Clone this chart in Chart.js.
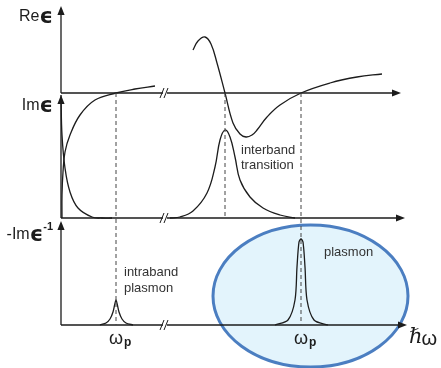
<!DOCTYPE html>
<html>
<head>
<meta charset="utf-8">
<script src="https://cdn.jsdelivr.net/npm/chart.js@4/dist/chart.umd.min.js"></script>
<style>
  html, body { margin: 0; padding: 0; background: #fff; }
  canvas { display: block; }
</style>
</head>
<body>
<canvas id="c" width="441" height="368"></canvas>
<script>
// Photon energy axis (arbitrary units of ħω)
const xRange = [0, 17];
// Three panels share the energy axis; each has its own vertical scale
const reRange = [-5.8, 2.2];      // Re ε
const imRange = [-2.675, 5.325];  // Im ε
const lossRange = [0, 8];         // -Im ε⁻¹

// Characteristic energies
const omegaIntra = 2.75;   // intraband (Drude) plasma frequency
const omegaInter = 8.2;    // interband transition
const omegaP = 12;         // screened plasma frequency
const breakAt = 5.2;       // axis break

// Re ε – free-electron part
const reDrudeX = [0.05, 0.05, 0.1, 0.2, 0.45, 0.95, 1.7, 2.75, 3.7, 4.7];
const reDrudeY = [-3.125, -2.55, -1.975, -1.475, -1.05, -0.55, -0.175, 0, 0.1, 0.175];
// Re ε – around the interband transition
const reInterX = [6.6, 6.85, 7.2, 7.5, 7.8, 8.2, 8.6, 8.95, 9.25, 9.55, 9.8, 10.3, 10.95, 12, 13.45, 14.8, 16.05];
const reInterY = [1.075, 1.3, 1.4, 1.225, 0.75, 0, -0.75, -1.025, -1.1, -1.05, -0.925, -0.6, -0.3, 0, 0.25, 0.4, 0.475];

// Im ε – Drude tail
const imDrudeX = [0, 0.05, 0.2, 0.45, 0.85, 1.55, 2.05, 2.55];
const imDrudeY = [3.075, 2.075, 1.25, 0.65, 0.25, 0.025, 0, 0];
// Im ε – interband absorption peak
const imInterX = [5.45, 5.95, 6.6, 7.3, 7.7, 7.95, 8.2, 8.45, 8.7, 8.95, 9.45, 10.1, 10.95, 11.7];
const imInterY = [0, 0.025, 0.175, 0.625, 1.275, 1.95, 2.2, 2.025, 1.525, 0.95, 0.525, 0.25, 0.075, 0];

// -Im ε⁻¹ – intraband plasmon
const lossIntraX = [1.95, 2.25, 2.45, 2.6, 2.69, 2.75, 2.81, 2.9, 3.05, 3.25, 3.6];
const lossIntraY = [0, 0.05, 0.15, 0.325, 0.525, 0.625, 0.525, 0.325, 0.15, 0.05, 0];
// -Im ε⁻¹ – plasmon
const lossPlasmonX = [10.7, 11.35, 11.7, 11.8, 11.9, 12, 12.1, 12.2, 12.3, 12.65, 13.35];
const lossPlasmonY = [0, 0.125, 0.625, 1.45, 2.075, 2.15, 2.075, 1.45, 0.625, 0.125, 0];

// Highlight around the plasmon peak (centre and half-axes in data units)
const highlightCenter = [12.475, 0.725];
const highlightRadii = [4.875, 1.775];

// Axis extents (arrow tips)
const reAxisTop = 2.175, imAxisTop = 3.075, lossAxisTop = 2.6;
const reAxisEnd = 17, imAxisEnd = 17.2, lossAxisEnd = 17.3;

// Text
const axisTitles = ['Re', 'Im', '-Im'];
const epsilon = 'ϵ';
const interbandLabel = ['interband', 'transition'];
const intraLabel = ['intraband', 'plasmon'];
const plasmonLabel = 'plasmon';

const INK = '#1c1c1c';
const TEXT = '#333333';

function pts(xs, ys) { return xs.map((x, i) => ({ x: x, y: ys[i] })); }

function curve(xs, ys, axis, tension) {
  return {
    data: pts(xs, ys), yAxisID: axis, showLine: true,
    borderColor: INK, borderWidth: 1.3, pointRadius: 0,
    tension: tension, clip: false, fill: false
  };
}
function guide(x, y0, y1, axis) {
  return {
    data: [{ x: x, y: y0 }, { x: x, y: y1 }], yAxisID: axis, showLine: true,
    borderColor: '#444', borderWidth: 1, borderDash: [4, 3], pointRadius: 0,
    tension: 0, clip: false, fill: false
  };
}

function arrowHead(ctx, x, y, dir) {
  const L = 9, W = 3.6;
  ctx.beginPath();
  if (dir === 'up') {
    ctx.moveTo(x, y); ctx.lineTo(x - W, y + L); ctx.lineTo(x + W, y + L);
  } else {
    ctx.moveTo(x, y); ctx.lineTo(x - L, y - W); ctx.lineTo(x - L, y + W);
  }
  ctx.closePath();
  ctx.fill();
}

const diagram = {
  id: 'diagram',
  beforeDatasetsDraw(chart) {
    const ctx = chart.ctx;
    const xs = chart.scales.x, yr = chart.scales.yRe, yi = chart.scales.yIm, yl = chart.scales.yLoss;
    ctx.save();
    // highlight ellipse
    const cx = xs.getPixelForValue(highlightCenter[0]);
    const cy = yl.getPixelForValue(highlightCenter[1]);
    const rx = xs.getPixelForValue(highlightCenter[0] + highlightRadii[0]) - cx;
    const ry = cy - yl.getPixelForValue(highlightCenter[1] + highlightRadii[1]);
    ctx.beginPath();
    ctx.ellipse(cx, cy, rx, ry, 0, 0, Math.PI * 2);
    ctx.fillStyle = '#e3f4fc';
    ctx.fill();
    ctx.lineWidth = 3;
    ctx.strokeStyle = '#4b7ec1';
    ctx.stroke();

    // axes
    ctx.strokeStyle = INK;
    ctx.fillStyle = INK;
    ctx.lineWidth = 1.3;
    const x0 = xs.getPixelForValue(0);
    const lines = [
      [yr, reAxisTop, reAxisEnd],
      [yi, imAxisTop, imAxisEnd],
      [yl, lossAxisTop, lossAxisEnd]
    ];
    lines.forEach(([ys, top, end]) => {
      const yb = ys.getPixelForValue(0);
      const yt = ys.getPixelForValue(top);
      const xe = xs.getPixelForValue(end);
      ctx.beginPath();
      ctx.moveTo(x0, yb); ctx.lineTo(x0, yt + 4);
      ctx.moveTo(x0, yb); ctx.lineTo(xe - 4, yb);
      ctx.stroke();
      arrowHead(ctx, x0, yt, 'up');
      arrowHead(ctx, xe, yb, 'right');
      // axis break
      const bx = xs.getPixelForValue(breakAt);
      ctx.save();
      ctx.fillStyle = '#fff';
      ctx.fillRect(bx - 2, yb - 2, 4, 4);
      ctx.beginPath();
      ctx.lineWidth = 1;
      ctx.moveTo(bx - 5, yb + 5); ctx.lineTo(bx - 1, yb - 5);
      ctx.moveTo(bx - 1, yb + 5); ctx.lineTo(bx + 3, yb - 5);
      ctx.stroke();
      ctx.restore();
    });
    ctx.restore();
  },
  afterDatasetsDraw(chart) {
    const ctx = chart.ctx;
    const xs = chart.scales.x, yr = chart.scales.yRe, yi = chart.scales.yIm, yl = chart.scales.yLoss;
    ctx.save();
    const x0 = xs.getPixelForValue(0);

    // axis titles
    ctx.fillStyle = INK;
    ctx.textBaseline = 'middle';
    const epsFont = 'bold 21px "DejaVu Sans"';
    function title(text, yPix, sup) {
      ctx.font = epsFont;
      const ew = ctx.measureText(epsilon).width;
      let right = x0 - 8;
      if (sup) {
        ctx.font = 'bold 11px "Liberation Sans"';
        const sw = ctx.measureText(sup).width;
        ctx.textAlign = 'left';
        ctx.fillText(sup, right - sw, yPix - 8);
        right -= sw;
      }
      ctx.font = epsFont;
      ctx.textAlign = 'right';
      ctx.fillText(epsilon, right, yPix + 1);
      ctx.font = '16px "Liberation Sans"';
      ctx.fillText(text, right - ew, yPix);
    }
    title(axisTitles[0], yr.getPixelForValue(1.9), null);
    title(axisTitles[1], yi.getPixelForValue(2.8), null);
    title(axisTitles[2], yl.getPixelForValue(2.25), '-1');

    // annotations
    ctx.fillStyle = TEXT;
    ctx.font = '13px "Liberation Sans"';
    ctx.textAlign = 'left';
    ctx.fillText(interbandLabel[0], xs.getPixelForValue(9.0), yi.getPixelForValue(1.7));
    ctx.fillText(interbandLabel[1], xs.getPixelForValue(9.0), yi.getPixelForValue(1.325));
    ctx.fillText(intraLabel[0], xs.getPixelForValue(3.15), yl.getPixelForValue(1.325));
    ctx.fillText(intraLabel[1], xs.getPixelForValue(3.15), yl.getPixelForValue(0.925));
    ctx.fillText(plasmonLabel, xs.getPixelForValue(13.15), yl.getPixelForValue(1.825));

    // ωp labels under the energy axis
    const yb = yl.getPixelForValue(0);
    [omegaIntra, omegaP].forEach(v => {
      const px = xs.getPixelForValue(v);
      ctx.fillStyle = INK;
      ctx.font = '18px "Liberation Sans"';
      ctx.textAlign = 'right';
      ctx.fillText('ω', px + 7, yb + 14);
      ctx.font = 'bold 12px "Liberation Sans"';
      ctx.textAlign = 'left';
      ctx.fillText('p', px + 8, yb + 18);
    });

    // energy axis title
    ctx.fillStyle = INK;
    ctx.textAlign = 'left';
    ctx.font = 'italic 21px "DejaVu Serif"';
    const hx = xs.getPixelForValue(lossAxisEnd) + 2;
    ctx.fillText('ℏ', hx, yb + 13);
    const hw = ctx.measureText('ℏ').width;
    ctx.font = '20px "Liberation Sans"';
    ctx.fillText('ω', hx + hw - 1, yb + 14);
    ctx.restore();
  }
};

new Chart(document.getElementById('c'), {
  type: 'scatter',
  data: {
    datasets: [
      guide(omegaIntra, 0, reRange[0], 'yRe'),
      guide(omegaInter, 0, -3.125, 'yRe'),
      guide(omegaP, 0, reRange[0], 'yRe'),
      curve(reDrudeX, reDrudeY, 'yRe', 0.4),
      curve(reInterX, reInterY, 'yRe', 0.4),
      curve(imDrudeX, imDrudeY, 'yIm', 0.4),
      curve(imInterX, imInterY, 'yIm', 0.4),
      curve(lossIntraX, lossIntraY, 'yLoss', 0.25),
      curve(lossPlasmonX, lossPlasmonY, 'yLoss', 0.3)
    ]
  },
  options: {
    responsive: false,
    animation: false,
    devicePixelRatio: 1,
    layout: { padding: { left: 61, right: 40, top: 5, bottom: 43 } },
    plugins: { legend: { display: false }, tooltip: { enabled: false } },
    elements: { line: { capBezierPoints: false } },
    scales: {
      x: { type: 'linear', min: xRange[0], max: xRange[1], display: false },
      yRe: { type: 'linear', min: reRange[0], max: reRange[1], display: false },
      yIm: { type: 'linear', min: imRange[0], max: imRange[1], display: false },
      yLoss: { type: 'linear', min: lossRange[0], max: lossRange[1], display: false }
    }
  },
  plugins: [diagram]
});
</script>
</body>
</html>
